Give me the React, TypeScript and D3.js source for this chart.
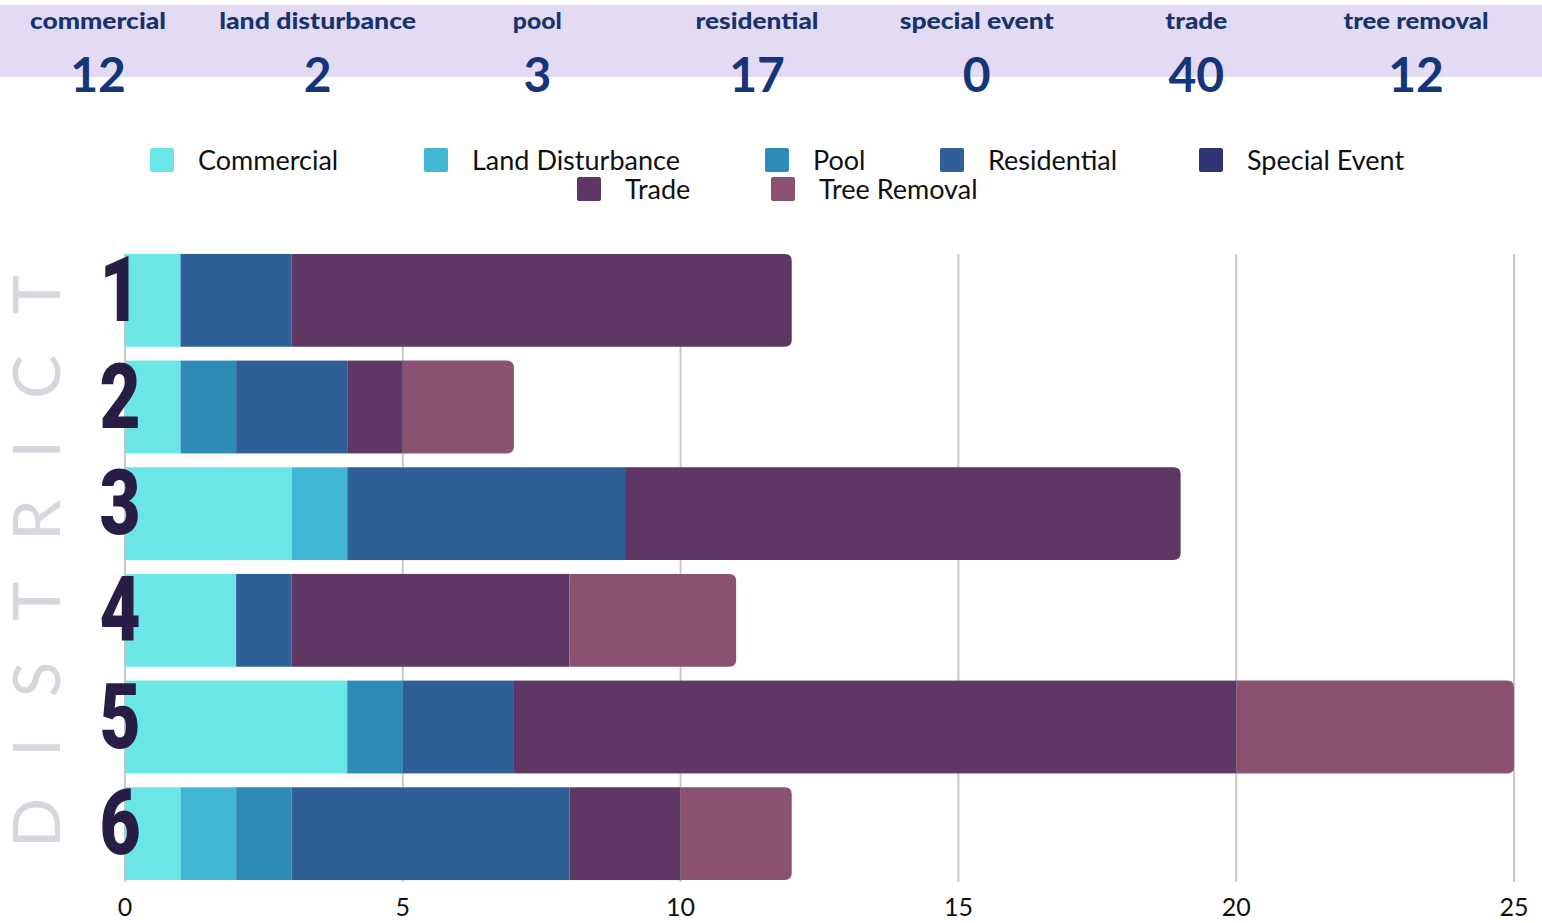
import React from 'react';
import * as d3 from 'd3';

// District rows and permit categories
const districts = ['1', '2', '3', '4', '5', '6'];
const seriesNames = ['Commercial', 'Land Disturbance', 'Pool', 'Residential', 'Special Event', 'Trade', 'Tree Removal'];
const commercial = [1, 1, 3, 2, 4, 1];
const landDisturbance = [0, 0, 1, 0, 0, 1];
const pool = [0, 1, 0, 0, 1, 1];
const residential = [2, 2, 5, 1, 2, 5];
const specialEvent = [0, 0, 0, 0, 0, 0];
const trade = [9, 1, 10, 5, 13, 2];
const treeRemoval = [0, 2, 0, 3, 5, 2];
const headerLabels = ['commercial', 'land disturbance', 'pool', 'residential', 'special event', 'trade', 'tree removal'];
const xTicks = [0, 5, 10, 15, 20, 25];

const colors = ['#6ae5e8', '#42b7d5', '#2e8bb8', '#2e5f97', '#2f3572', '#5e3764', '#8a5270'];

const W = 1542;
const H = 923;

// legend layout (x of each swatch, row)
const legendPos = [
  { x: 150, row: 0 }, { x: 424, row: 0 }, { x: 765, row: 0 }, { x: 940, row: 0 },
  { x: 1199, row: 0 }, { x: 577, row: 1 }, { x: 771, row: 1 },
];
// measured header label widths (the original squeezes them)
const headerWidths = [136, 197, 49, 123, 154, 62, 145];

const allSeries = [commercial, landDisturbance, pool, residential, specialEvent, trade, treeRemoval];

const rows = districts.map((d, i) => {
  const r: any = { district: d };
  seriesNames.forEach((s, j) => (r[s] = allSeries[j][i]));
  return r;
});

const stacked = d3.stack<any>().keys(seriesNames)(rows);

function roundRight(x0: number, y: number, x1: number, h: number, r: number) {
  const w = x1 - x0;
  const rr = Math.min(r, w / 2, h / 2);
  return `M${x0},${y}H${x1 - rr}Q${x1},${y} ${x1},${y + rr}V${y + h - rr}Q${x1},${y + h} ${x1 - rr},${y + h}H${x0}Z`;
}

export default function App() {
  const x = d3.scaleLinear().domain([0, 25]).range([125, 1514]);
  const y = d3.scaleBand().domain(districts).range([247, 887]).paddingInner(0.13).paddingOuter(0.065);
  const hx = d3.scalePoint().domain(headerLabels).range([98, 1416]);

  const totals = allSeries.map((s) => d3.sum(s));
  const lastIdx = districts.map((_, i) => {
    let k = -1;
    seriesNames.forEach((_, j) => { if (allSeries[j][i] > 0) k = j; });
    return k;
  });

  const navy = '#16336e';

  return (
    <div style={{ position: 'absolute', left: 0, top: 0 }}>
      <svg width={W} height={H} style={{ display: 'block', background: '#fff' }}>
        {/* header band */}
        <rect x={0} y={5} width={W} height={72} fill="#e3dbf3" />
        {headerLabels.map((l, i) => (
          <g key={l}>
            <text x={hx(l)} y={29} textAnchor="middle" fontFamily="Lato, 'Noto Sans', sans-serif" fontWeight={900}
              fontSize={23} fill={navy} textLength={headerWidths[i]} lengthAdjust="spacingAndGlyphs">{l}</text>
            <text x={hx(l)} y={92} textAnchor="middle" fontFamily="Lato, 'Noto Sans', sans-serif" fontWeight={700}
              fontSize={48} fill="#15357a">{totals[i]}</text>
          </g>
        ))}

        {/* legend */}
        {seriesNames.map((s, i) => {
          const p = legendPos[i];
          const ty = p.row === 0 ? 148 : 177;
          return (
            <g key={s}>
              <rect x={p.x} y={ty} width={24} height={24} rx={2} fill={colors[i]} />
              <text x={p.x + 48} y={ty + 22} fontFamily="Lato, 'Noto Sans', sans-serif" fontWeight={400}
                fontSize={27} fill="#111">{s}</text>
            </g>
          );
        })}

        {/* grid */}
        {xTicks.map((t) => (
          <g key={t}>
            <line x1={x(t)} x2={x(t)} y1={254} y2={882} stroke="#c8c8c8" strokeWidth={2} />
            <text x={x(t)} y={916} textAnchor="middle" fontFamily="Lato, 'Noto Sans', sans-serif" fontSize={25} fill="#111">{t}</text>
          </g>
        ))}

        {/* bars */}
        {stacked.map((layer, j) => (
          <g key={layer.key} fill={colors[j]}>
            {layer.map((seg, i) => {
              const v = seg[1] - seg[0];
              if (v <= 0) return null;
              const y0 = y(districts[i])!;
              const h = y.bandwidth();
              if (lastIdx[i] === j) {
                return <path key={i} d={roundRight(x(seg[0]), y0, x(seg[1]), h, 7)} />;
              }
              return <rect key={i} x={x(seg[0])} y={y0} width={x(seg[1]) - x(seg[0])} height={h} />;
            })}
          </g>
        ))}

        {/* district numbers */}
        {districts.map((d) => {
          const cx = 120;
          const by = y(d)! + 67;
          return (
            <text key={d} transform={`translate(${cx},${by}) scale(0.78,1)`} textAnchor="middle"
              fontFamily="Roboto, 'Noto Sans', sans-serif" fontWeight={900} fontSize={91} fill="#281e45">{d}</text>
          );
        })}

        {/* vertical DISTRICT title */}
        <text transform="translate(60,848) rotate(-90)" fontFamily="Lato, 'Noto Sans', sans-serif" fontWeight={400}
          fontSize={66} fill="#d8d5dd" textLength={573} lengthAdjust="spacing">DISTRICT</text>
      </svg>
    </div>
  );
}
